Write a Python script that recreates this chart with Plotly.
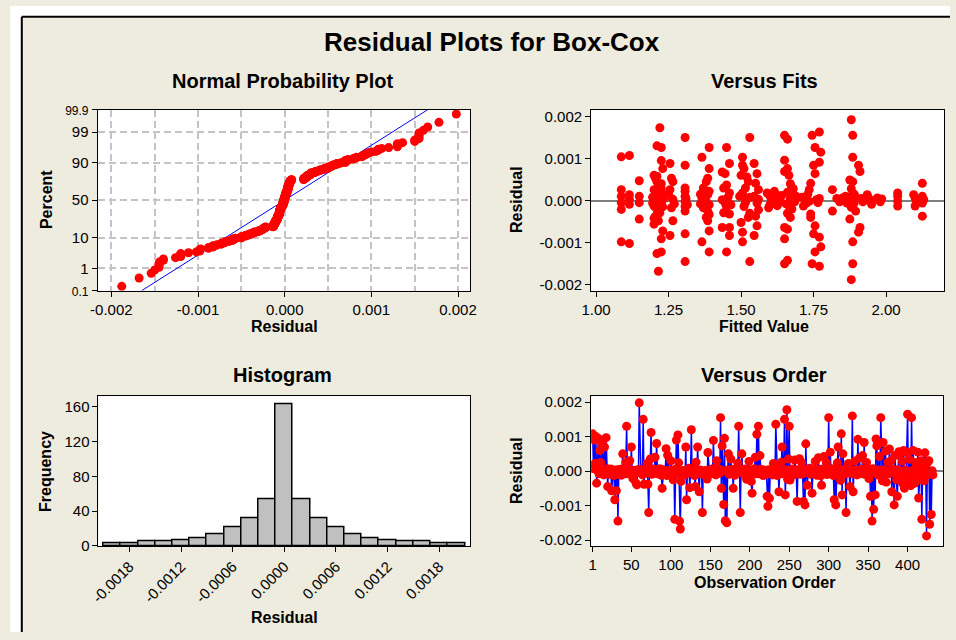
import plotly.graph_objects as go
from statistics import NormalDist

W, H = 956, 640

# ---------------- data (residuals in units of 1e-4) ----------------
order_resid_e4 = [
    10.8, 0.7, 9.0, 2.2, 10.0, -3.5, 0.2, 9.5, -0.8, 6.0, 2.5, -0.1, 8.0, 0.4, -1.1, 7.0, -0.1, 9.7, 0.7, -4.5,
    0.2, -0.9, -0.2, 0.6, -5.7, -0.6, 0.3, -1.3, -8.3, 0.1, -5.7, 0.4, -14.5, -0.7, -0.2, 0.5, -1.2, 0.0, 5.0, -0.5,
    0.3, -0.8, 2.5, 13.0, -0.1, -0.6, 0.6, 3.0, -1.0, 7.0, -0.3, -2.2, 0.2, -0.7, 0.0, -3.5, -4.0, 0.4, -0.4, 19.8,
    0.5, -0.5, 0.1, -1.1, 15.0, -3.8, -0.2, 0.3, -0.6, 2.2, -3.8, -12.0, -0.1, 3.5, 11.2, -0.9, 0.0, 0.6, -0.6, 4.0,
    -0.2, 8.0, -0.8, 0.4, -0.4, 0.7, 0.0, -1.2, -5.0, 0.1, 0.4, -0.5, -0.3, 6.5, -1.3, 4.6, 0.2, -0.7, -0.1, 3.0,
    -0.6, 0.3, -2.5, -0.2, -14.0, 0.5, 9.0, -0.8, 10.5, 2.4, -14.5, -16.8, -3.0, 0.0, -0.9, 0.2, -0.3, -1.1, 7.0, -8.3,
    0.4, -0.5, 0.8, -4.8, 0.1, 12.0, -0.6, 0.5, -0.2, -1.3, -4.5, 2.6, -0.1, 7.0, -0.8, -6.0, 0.3, -0.5, 0.0, -12.0,
    -0.1, -1.0, 0.2, -0.4, 0.1, -2.3, 5.4, -0.3, -0.7, 0.4, -0.8, 0.0, 0.7, 8.9, -0.6, 0.4, -1.1, 3.0, -0.2, -0.4,
    0.6, -0.6, 15.5, -5.0, 7.3, 0.2, -9.7, 9.5, -14.4, -0.1, -15.0, 0.3, 5.0, -0.9, 0.1, 3.5, -0.5, 0.5, -5.0, -0.3,
    -1.2, 0.3, -0.1, -0.6, 2.3, 13.0, 0.1, -12.0, 0.4, 5.0, -0.5, 0.0, -0.9, 0.6, -0.2, -2.4, 0.2, -0.6, 2.8, 0.0,
    -1.2, -3.0, -6.4, 0.4, -0.4, 0.7, 4.0, -0.8, 10.7, -0.1, 13.0, -0.8, 4.5, 0.5, -0.6, -0.2, -1.3, 0.3, -0.3, -1.0,
    0.1, -7.3, -10.2, 0.4, -7.9, -0.1, -0.7, 0.3, -1.1, 2.2, -0.3, -0.6, 13.6, 0.1, -1.3, 0.5, -6.0, 0.0, -0.5, 2.6,
    7.0, -0.8, -0.1, 15.0, -6.9, 0.4, 17.8, -2.4, 3.5, 13.0, -2.6, 0.0, -0.5, 0.6, -0.2, -1.1, 3.2, 0.1, -0.6, -8.8,
    0.4, -0.4, 3.6, -0.9, 0.0, 2.4, -0.8, -8.8, 0.2, -9.8, 7.9, -0.2, -4.1, 0.5, -0.6, 0.8, -0.9, 0.1, -6.4, -0.3,
    0.3, -0.6, 2.8, -0.1, -1.2, 0.4, 3.9, -0.5, 0.1, -1.4, -4.1, 0.6, -0.2, 4.2, -0.7, 0.3, 2.6, -1.0, -0.1, 15.5,
    0.4, 5.5, -0.5, 0.7, 0.0, -1.3, -8.3, 0.2, -9.8, -0.2, 2.4, 7.0, -0.6, 0.5, -2.7, 10.8, -6.9, 5.0, -0.1, -0.9,
    0.6, -12.0, 0.1, -0.5, 2.2, -0.3, -4.5, 0.4, -0.8, 16.0, -6.0, 0.0, 2.9, -0.6, 0.3, -1.1, 9.2, -0.1, 3.8, -0.4,
    0.5, -0.8, 4.5, -0.2, 8.3, -0.9, 0.2, 2.5, -0.6, 0.1, -2.2, 0.4, -7.3, -0.3, -14.5, 0.7, -11.1, 0.0, -6.9, 9.3,
    7.3, -1.1, 0.3, 4.2, -0.5, 15.5, 0.1, -2.8, 8.3, 0.4, -0.6, 5.8, -3.2, -0.2, 2.6, -0.8, 6.4, -0.1, 3.0, -6.0,
    0.6, -0.5, -9.8, 4.5, 0.0, -2.5, -7.3, 0.4, 5.6, 5.0, -1.2, -0.1, 2.9, -3.6, 6.0, -5.0, 0.3, -2.2, 5.4, 16.5,
    -2.6, 3.4, -0.7, -4.2, 15.5, 0.2, 6.0, -3.0, -3.5, 2.5, -1.3, 0.0, 5.5, -7.8, -2.4, 0.5, 3.0, -14.0, -0.6, 2.2,
    -2.8, 5.3, 0.1, -18.8, 2.4, -1.0, 3.0, -15.4, -0.6, -12.6, 0.1, -1.1,
]

fit_points = [
    (1.087, 10.4), (1.087, 2.6), (1.087, 1.0), (1.087, -0.5), (1.087, -2.1), (1.087, -9.8),
    (1.115, 10.7), (1.115, 1.4), (1.115, 0.3), (1.115, -0.9), (1.115, -10.2),
    (1.149, 4.7), (1.149, 1.0), (1.149, -0.5), (1.149, -4.4),
    (1.22, 17.3), (1.21, 13.0), (1.225, 12.6), (1.225, 9.5), (1.23, 7.6), (1.20, 6.0), (1.205, 5.3),
    (1.21, 4.5), (1.215, 3.8), (1.20, 2.6), (1.22, 2.0), (1.205, 1.0), (1.215, 0.3), (1.225, -0.5),
    (1.20, -1.3), (1.21, -2.1), (1.22, -2.9), (1.205, -3.7), (1.215, -4.8), (1.20, -5.6), (1.23, -7.2),
    (1.225, -9.1), (1.21, -12.6), (1.225, -12.2), (1.215, -16.8), (1.23, 1.5), (1.23, -1.5), (1.235, 0.5),
    (1.21, 5.8), (1.225, 4.0), (1.20, -4.2), (1.195, 0.8), (1.195, -0.6), (1.225, 2.8),
    (1.255, 8.8), (1.26, 5.3), (1.265, 4.5), (1.255, 2.6), (1.265, 0.3), (1.26, -1.7), (1.265, -4.8),
    (1.255, -8.3), (1.25, 1.5), (1.27, -0.8),
    (1.307, 15.0), (1.307, 8.4), (1.307, 3.0), (1.307, 2.2), (1.307, 1.0), (1.307, -0.2), (1.307, -1.4),
    (1.307, -2.5), (1.307, -7.9), (1.307, -14.5), (1.31, 0.5), (1.315, -1.0),
    (1.365, 10.3), (1.39, 12.6), (1.39, 7.6), (1.385, 5.3), (1.38, 4.5), (1.37, 3.0), (1.39, 2.2),
    (1.385, 1.4), (1.365, 0.6), (1.38, -0.2), (1.39, -1.0), (1.37, -1.7), (1.385, -2.5), (1.39, -3.3),
    (1.38, -4.0), (1.385, -4.8), (1.39, -7.2), (1.365, -9.8), (1.39, -12.2), (1.36, 1.5), (1.36, -0.8),
    (1.45, 12.6), (1.46, 8.8), (1.435, 6.8), (1.445, 6.4), (1.45, 3.7), (1.44, 3.0), (1.46, 1.8),
    (1.435, 0.2), (1.45, -1.4), (1.44, -2.9), (1.46, -3.2), (1.435, -6.4), (1.46, -6.4), (1.46, -8.3),
    (1.45, -12.2), (1.455, 0.8), (1.445, -0.6), (1.465, -1.0),
    (1.53, 15.0), (1.505, 10.3), (1.505, 8.4), (1.51, 7.6), (1.50, 6.0), (1.52, 5.6), (1.525, 4.5),
    (1.515, 3.0), (1.505, 1.8), (1.52, 0.3), (1.51, -1.4), (1.53, -3.0), (1.525, -4.0), (1.50, -5.2),
    (1.505, -7.5), (1.505, -9.8), (1.53, -14.5), (1.495, 1.0), (1.53, 0.8), (1.515, -0.5),
    (1.545, 8.8), (1.555, 6.4), (1.55, 4.1), (1.56, 2.6), (1.545, 1.0), (1.555, -0.6), (1.56, -2.2),
    (1.55, -3.7), (1.555, -6.0), (1.545, -8.3), (1.56, 0.3),
    (1.59, 1.8), (1.60, 1.0), (1.605, 0.3), (1.61, -0.5), (1.62, 1.4), (1.625, -1.2), (1.595, -1.7),
    (1.615, 2.2), (1.63, 0.6), (1.60, -0.9), (1.635, -0.2), (1.64, 1.2),
    (1.65, 15.5), (1.66, 14.6), (1.65, 9.6), (1.66, 7.6), (1.65, 6.9), (1.665, 6.0), (1.67, 4.0),
    (1.675, 3.0), (1.66, 2.0), (1.68, 1.5), (1.67, 0.5), (1.685, -0.3), (1.665, -1.2), (1.675, -2.0),
    (1.66, -3.0), (1.67, -4.0), (1.65, -6.4), (1.66, -6.8), (1.65, -9.1), (1.66, -14.2), (1.65, -15.0),
    (1.69, 1.0), (1.655, -0.8), (1.68, 2.8),
    (1.71, 0.8), (1.72, 0.2), (1.73, 1.5), (1.74, 4.1), (1.735, 2.6), (1.725, -0.6), (1.74, -3.2),
    (1.74, -4.0), (1.715, -1.3), (1.735, -0.2),
    (1.745, 15.5), (1.77, 16.3), (1.755, 12.6), (1.775, 11.5), (1.77, 9.1), (1.75, 8.4), (1.755, 6.4),
    (1.76, 0.2), (1.77, 0.5), (1.755, -6.0), (1.75, -7.9), (1.77, -8.7), (1.775, -11.0), (1.755, -12.2),
    (1.745, -15.0), (1.77, -15.6), (1.765, -0.5),
    (1.815, 2.6), (1.815, -2.5),
    (1.83, 0.5), (1.84, -0.3), (1.85, 0.6), (1.855, 0.0), (1.86, 1.0), (1.845, 0.2), (1.865, -0.6),
    (1.88, 19.2), (1.885, 15.5), (1.885, 10.3), (1.875, 4.9), (1.885, 4.5), (1.88, 2.8), (1.89, 1.5),
    (1.875, 0.9), (1.885, 0.2), (1.89, -0.6), (1.88, -1.6), (1.895, -2.5), (1.875, -4.4), (1.885, -9.8),
    (1.885, -15.0), (1.88, -18.8), (1.895, 0.8),
    (1.905, 8.4), (1.91, 6.9), (1.91, -6.4), (1.905, -7.5), (1.915, 0.5), (1.92, -0.3),
    (1.935, 1.4), (1.94, 0.6), (1.945, -0.2), (1.95, -0.9),
    (1.97, 0.6), (1.975, 0.2), (1.98, -0.3), (1.985, 0.4),
    (2.04, 1.8), (2.04, 1.0), (2.04, -0.1), (2.04, -1.3),
    (2.095, 1.4), (2.10, 0.6), (2.105, -0.2), (2.10, -1.3),
    (2.125, 4.1), (2.125, 1.0), (2.13, 0.2), (2.125, -0.6), (2.125, -3.7),
]

hist_centers = [-0.0020, -0.0018, -0.0016, -0.0014, -0.0012, -0.0010, -0.0008, -0.0006, -0.0004, -0.0002,
                0.0000, 0.0002, 0.0004, 0.0006, 0.0008, 0.0010, 0.0012, 0.0014, 0.0016, 0.0018, 0.0020]
hist_counts = [3, 3, 5, 5, 7, 9, 13, 21, 32, 54, 163, 54, 32, 21, 13, 9, 7, 5, 5, 3, 3]

# fitted normal line of the probability plot (read at 0.1 % and 99.9 %)
normal_line_percent = [0.1, 99.9]
normal_line_resid = [-0.00165, 0.00165]

percent_ticks = [0.1, 1, 10, 50, 90, 99, 99.9]
percent_labels = ['<span style="font-size:12px">0.1</span>', "1", "10", "50", "90", "99",
                  '<span style="font-size:12px">99.9</span>']
resid_ticks_3 = [-0.002, -0.001, 0.0, 0.001, 0.002]
resid_labels_3 = ["-0.002", "-0.001", "0.000", "0.001", "0.002"]
hist_ticks = [-0.0018, -0.0012, -0.0006, 0.0, 0.0006, 0.0012, 0.0018]
hist_labels = ["-0.0018", "-0.0012", "-0.0006", "0.0000", "0.0006", "0.0012", "0.0018"]
fit_ticks = [1.00, 1.25, 1.50, 1.75, 2.00]
fit_labels = ["1.00", "1.25", "1.50", "1.75", "2.00"]
order_ticks = [1, 50, 100, 150, 200, 250, 300, 350, 400]

# ---------------- derived ----------------
resid = [v * 1e-4 for v in order_resid_e4]
n = len(resid)
obs = list(range(1, n + 1))
nd = NormalDist()
sorted_res = sorted(resid)
z_pts = [nd.inv_cdf((i - 0.3) / (n + 0.4)) for i in range(1, n + 1)]
zmax = nd.inv_cdf(0.999)
line_z = [nd.inv_cdf(p / 100) for p in normal_line_percent]
fit_x = [p[0] for p in fit_points]
fit_y = [p[1] * 1e-4 for p in fit_points]

FONT = "Liberation Sans, Arial, sans-serif"
RED = "#FF0000"
BLUE = "#0000FF"
BG = "#EEEBDF"

fig = go.Figure()
fig.add_trace(go.Scatter(x=normal_line_resid, y=line_z, mode="lines", line=dict(color=BLUE, width=1),
                         xaxis="x", yaxis="y", hoverinfo="skip"))
fig.add_trace(go.Scatter(x=sorted_res, y=z_pts, mode="markers", marker=dict(color=RED, size=9),
                         xaxis="x", yaxis="y"))
fig.add_trace(go.Scatter(x=fit_x, y=fit_y, mode="markers", marker=dict(color=RED, size=9),
                         xaxis="x2", yaxis="y2"))
fig.add_trace(go.Bar(x=hist_centers, y=hist_counts, width=0.0002,
                     marker=dict(color="#C0C0C0", line=dict(color="#000000", width=1.5)),
                     xaxis="x3", yaxis="y3"))
fig.add_trace(go.Scatter(x=obs, y=resid, mode="lines+markers", line=dict(color=BLUE, width=1.5),
                         marker=dict(color=RED, size=9), xaxis="x4", yaxis="y4"))


def xd(a, b):
    return [a / W, b / W]


def yd(top, bottom):
    return [1 - bottom / H, 1 - top / H]


axis_common = dict(showline=True, linecolor="#000000", linewidth=1, mirror=True,
                   ticks="outside", ticklen=5, tickwidth=1, tickcolor="#000000",
                   tickfont=dict(family=FONT, size=15, color="#000000"), showgrid=False,
                   zeroline=False, fixedrange=True)
grid = dict(showgrid=True, gridcolor="#C4C4C4", gridwidth=1.5, griddash="7px,4px")

fig.update_layout(
    width=W, height=H, margin=dict(l=0, r=0, t=0, b=0),
    paper_bgcolor=BG, plot_bgcolor="#FFFFFF", showlegend=False, bargap=0,
    font=dict(family=FONT, color="#000000"),
    xaxis=dict(axis_common, **grid, domain=xd(89, 468), anchor="y", range=[-0.00216, 0.00214],
               tickmode="array", tickvals=resid_ticks_3, ticktext=resid_labels_3,
               minor=dict(dtick=0.0005, tick0=0, showgrid=True, gridcolor="#C4C4C4",
                          gridwidth=1.5, griddash="7px,4px", ticks="")),
    yaxis=dict(axis_common, **grid, domain=yd(106, 291), anchor="x", range=[-zmax, zmax],
               tickmode="array", tickvals=[nd.inv_cdf(p / 100) for p in percent_ticks],
               ticktext=percent_labels),
    xaxis2=dict(axis_common, domain=xd(591, 950), anchor="y2", range=[0.983, 2.20],
                tickmode="array", tickvals=fit_ticks, ticktext=fit_labels),
    yaxis2=dict(axis_common, domain=yd(106, 291), anchor="x2", range=[-0.00214, 0.00216],
                tickmode="array", tickvals=resid_ticks_3, ticktext=resid_labels_3,
                zeroline=True, zerolinecolor="#7F7F7F", zerolinewidth=1.5),
    xaxis3=dict(axis_common, domain=xd(90, 468), anchor="y3", range=[-0.00216, 0.00216],
                tickmode="array", tickvals=hist_ticks, ticktext=hist_labels, tickangle=-45),
    yaxis3=dict(axis_common, domain=yd(399, 552), anchor="x3", range=[0, 172],
                tickmode="array", tickvals=[0, 40, 80, 120, 160]),
    xaxis4=dict(axis_common, domain=xd(591, 949), anchor="y4", range=[-1, 445],
                tickmode="array", tickvals=order_ticks),
    yaxis4=dict(axis_common, domain=yd(399, 552), anchor="x4", range=[-0.00217, 0.00217],
                tickmode="array", tickvals=resid_ticks_3, ticktext=resid_labels_3,
                zeroline=True, zerolinecolor="#7F7F7F", zerolinewidth=1.5),
)

# outer frame: white margin strips and black border lines
shapes = [
    dict(type="rect", xref="paper", yref="paper", x0=0, x1=1, y0=1 - 11 / H, y1=1,
         fillcolor="#FFFFFF", line=dict(width=0), layer="below"),
    dict(type="rect", xref="paper", yref="paper", x0=0, x1=12 / W, y0=0, y1=1,
         fillcolor="#FFFFFF", line=dict(width=0), layer="below"),
    dict(type="line", xref="paper", yref="paper", x0=12 / W, x1=1, y0=1 - 11 / H, y1=1 - 11 / H,
         line=dict(color="#000000", width=2)),
    dict(type="line", xref="paper", yref="paper", x0=12 / W, x1=12 / W, y0=0, y1=1 - 11 / H,
         line=dict(color="#000000", width=2)),
]
fig.update_layout(shapes=shapes)


def ann(text, x, y, size, angle=0):
    return dict(text="<b>%s</b>" % text, x=x / W, y=1 - y / H, xref="paper", yref="paper",
                showarrow=False, xanchor="center", yanchor="middle", textangle=angle,
                font=dict(family=FONT, size=size, color="#000000"))


annotations = [
    ann("Residual Plots for Box-Cox", 490, 37, 26),
    ann("Normal Probability Plot", 277, 77, 20),
    ann("Versus Fits", 767, 77, 20),
    ann("Histogram", 277, 377, 20),
    ann("Versus Order", 767, 377, 20),
    ann("Residual", 279, 328, 16),
    ann("Percent", 37, 198, 16, -90),
    ann("Fitted Value", 767, 328, 16),
    ann("Residual", 515, 198, 16, -90),
    ann("Residual", 279, 625, 16),
    ann("Frequency", 36, 476, 16, -90),
    ann("Observation Order", 767, 589, 16),
    ann("Residual", 515, 475, 16, -90),
]
fig.update_layout(annotations=annotations)

fig.write_html("out.html", config={"displayModeBar": False},
               post_script="document.body.style.margin='0px';document.body.style.overflow='hidden';")
